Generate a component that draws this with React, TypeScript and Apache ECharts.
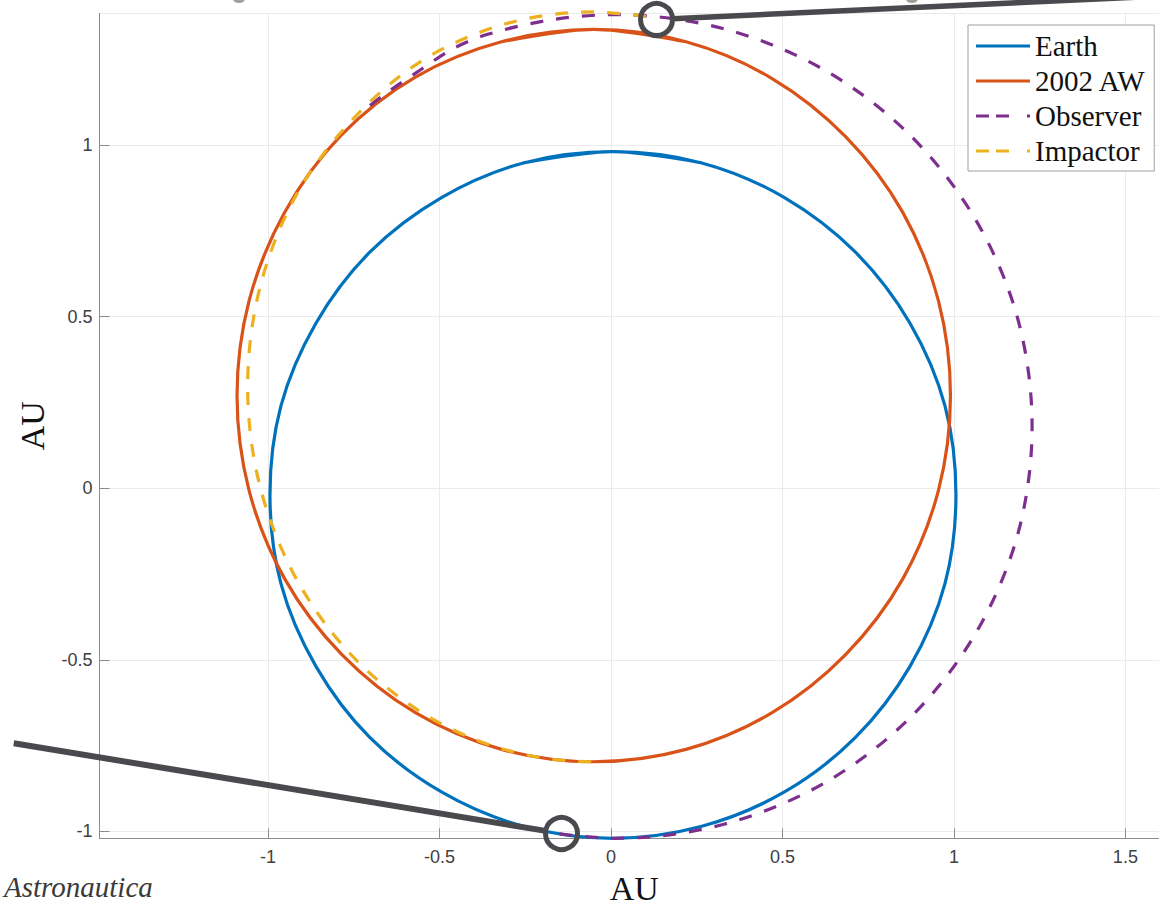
import React, { useEffect, useRef } from "react";
import * as echarts from "echarts";

// ---- data (AU) ----
// closed orbits: first point repeated at the end
const earth: number[][] = [
  [0.006, 0.981], [-0.255, 0.948], [-0.494, 0.847], [-0.703, 0.688], [-0.860, 0.481],
  [-0.962, 0.240], [-0.994, -0.019], [-0.962, -0.278], [-0.860, -0.519], [-0.703, -0.726],
  [-0.494, -0.885], [-0.255, -0.985], [0.006, -1.020], [0.265, -0.985], [0.506, -0.885],
  [0.713, -0.726], [0.872, -0.519], [0.974, -0.278], [1.006, -0.019], [0.974, 0.240],
  [0.872, 0.481], [0.713, 0.688], [0.506, 0.847], [0.265, 0.948], [0.006, 0.981],
];

const aw2002: number[][] = [
  [-0.050, 1.337], [-0.319, 1.301], [-0.570, 1.198], [-0.787, 1.028], [-0.951, 0.804],
  [-1.055, 0.546], [-1.090, 0.270], [-1.055, -0.006], [-0.951, -0.264], [-0.785, -0.484],
  [-0.570, -0.654], [-0.319, -0.761], [-0.050, -0.797], [0.219, -0.761], [0.470, -0.654],
  [0.685, -0.484], [0.851, -0.264], [0.955, -0.006], [0.990, 0.270], [0.955, 0.546],
  [0.851, 0.804], [0.685, 1.024], [0.470, 1.194], [0.219, 1.301], [-0.050, 1.337],
];

const observer: number[][] = [
  [-0.150, -1.007], [0.015, -1.020], [0.329, -0.979], [0.622, -0.859], [0.873, -0.668],
  [1.065, -0.420], [1.187, -0.131], [1.228, 0.180], [1.187, 0.491], [1.065, 0.780],
  [0.873, 1.028], [0.622, 1.219], [0.329, 1.339], [0.015, 1.380], [-0.174, 1.365],
  [-0.362, 1.322], [-0.460, 1.281], [-0.557, 1.218], [-0.654, 1.152], [-0.722, 1.100],
];

const impactor: number[][] = [
  [0.102, 1.375], [-0.055, 1.388], [-0.315, 1.351], [-0.557, 1.242], [-0.765, 1.062],
  [-0.924, 0.842], [-1.025, 0.578], [-1.059, 0.296], [-1.025, 0.013], [-0.924, -0.251],
  [-0.765, -0.477], [-0.557, -0.650], [-0.315, -0.760], [-0.055, -0.797], [-0.020, -0.796],
];

const seriesNames = ["Earth", "2002 AW", "Observer", "Impactor"];
const seriesColors = ["#0072BD", "#D95319", "#7E2F8E", "#EDB120"];
const seriesDashed = [false, false, true, true];
const seriesClosed = [true, true, false, false];

// annotation anchors (AU)
const markerTop = [0.133, 1.366];
const markerBottom = [-0.144, -1.006];
const calloutTopEnd = [1.598, 1.434];
const calloutBottomEnd = [-1.741, -0.743];

const xRange = [-1.491, 1.598];
const yRange = [-1.02, 1.384];

const GREY = "#4a4a4e";
const SOLID_ICON = "path://M0,0h54v3.2h-54z";
const DASH_ICON = "path://M0,0h13v3.2h-13z M20,0h13v3.2h-13z M51,0h3v3.2h-3z";

// for a closed loop, let the smoothed path run one point past the seam on each side
const wrap = (d: number[][], closed: boolean) =>
  closed ? [d[d.length - 2], ...d, d[1]] : d;

export default function App() {
  const ref = useRef<HTMLDivElement>(null);

  useEffect(() => {
    const chart = echarts.init(ref.current!, null, { renderer: "svg" });
    const axisCommon = {
      type: "value",
      axisLine: { show: true, onZero: false, lineStyle: { color: "#8c8c8c", width: 1 } },
      axisTick: { show: true, inside: true, length: 10, lineStyle: { color: "#8c8c8c", width: 1 } },
      axisLabel: {
        showMinLabel: false,
        showMaxLabel: false,
        color: "#404040",
        fontSize: 18,
        fontFamily: "Liberation Sans, Arial, sans-serif",
      },
      splitLine: { show: true, lineStyle: { color: "#ebebeb", width: 1 } },
      nameLocation: "middle",
      nameTextStyle: {
        fontFamily: "Liberation Serif, Times New Roman, serif",
        fontSize: 34,
        lineHeight: 30,
        color: "#111",
      },
    };
    chart.setOption({
      animation: false,
      backgroundColor: "#ffffff",
      grid: {
        left: 99.5,
        right: 0,
        top: 13.3,
        bottom: 66.7,
        containLabel: false,
        outerBoundsMode: "none",
      },
      xAxis: {
        ...axisCommon,
        min: xRange[0],
        max: xRange[1],
        name: "AU",
        nameGap: 22,
        nameTextStyle: { ...axisCommon.nameTextStyle, padding: [0, 0, 0, 10] },
        axisLabel: { ...axisCommon.axisLabel, margin: 10 },
      },
      yAxis: {
        ...axisCommon,
        min: yRange[0],
        max: yRange[1],
        name: "AU",
        nameGap: 52,
        axisLabel: { ...axisCommon.axisLabel, margin: 7 },
      },
      legend: {
        data: seriesNames.map((n, i) => ({ name: n, icon: seriesDashed[i] ? DASH_ICON : SOLID_ICON })),
        orient: "vertical",
        left: 968,
        top: 25,
        itemWidth: 54,
        itemHeight: 3.2,
        itemGap: 5,
        padding: [6, 8, 5, 8],
        borderColor: "#a0a0a0",
        borderWidth: 1,
        backgroundColor: "#ffffff",
        textStyle: {
          fontFamily: "Liberation Serif, Times New Roman, serif",
          fontSize: 29,
          lineHeight: 30,
          color: "#111",
        },
      },
      series: [earth, aw2002, observer, impactor].map((d, i) => ({
        name: seriesNames[i],
        type: "line",
        data: wrap(d, seriesClosed[i]),
        symbol: "none",
        showSymbol: false,
        smooth: 0.33,
        clip: false,
        z: 2 + i,
        itemStyle: { color: seriesColors[i] },
        lineStyle: {
          color: seriesColors[i],
          width: 3.2,
          type: seriesDashed[i] ? [13, 13] : "solid",
        },
      })),
    });

    const px = (p: number[]) => chart.convertToPixel({ gridIndex: 0 }, p) as number[];
    const r = 16;
    const shorten = (from: number[], to: number[]) => {
      const dx = to[0] - from[0];
      const dy = to[1] - from[1];
      const d = Math.hypot(dx, dy);
      return [to[0] - (dx / d) * r, to[1] - (dy / d) * r];
    };
    const mt = px(markerTop);
    const mb = px(markerBottom);
    const et = px(calloutTopEnd);
    const eb = px(calloutBottomEnd);
    const st = shorten(et, mt);
    const sb = shorten(eb, mb);

    chart.setOption({
      graphic: [
        { type: "ellipse", shape: { cx: 239, cy: -1, rx: 6, ry: 4 }, style: { fill: "#a39e94" }, z: 100 },
        { type: "ellipse", shape: { cx: 912, cy: -1, rx: 6, ry: 4 }, style: { fill: "#a39e94" }, z: 100 },
        {
          type: "line",
          shape: { x1: et[0], y1: et[1], x2: st[0], y2: st[1] },
          style: { stroke: GREY, lineWidth: 5.5 },
          z: 100,
        },
        {
          type: "line",
          shape: { x1: eb[0], y1: eb[1], x2: sb[0], y2: sb[1] },
          style: { stroke: GREY, lineWidth: 6 },
          z: 100,
        },
        {
          type: "circle",
          shape: { cx: mt[0], cy: mt[1], r },
          style: { fill: "none", stroke: GREY, lineWidth: 5 },
          z: 100,
        },
        {
          type: "circle",
          shape: { cx: mb[0], cy: mb[1], r },
          style: { fill: "none", stroke: GREY, lineWidth: 5 },
          z: 100,
        },
        {
          type: "text",
          left: 4,
          top: 872,
          style: {
            text: "Astronautica",
            fontFamily: "Liberation Serif, Times New Roman, serif",
            fontStyle: "italic",
            fontSize: 29,
            fill: "#3a3a3a",
          },
          z: 100,
        },
      ],
    });

    return () => chart.dispose();
  }, []);

  return (
    <div
      ref={ref}
      style={{ position: "absolute", left: 0, top: 0, width: 1159, height: 905 }}
    />
  );
}
